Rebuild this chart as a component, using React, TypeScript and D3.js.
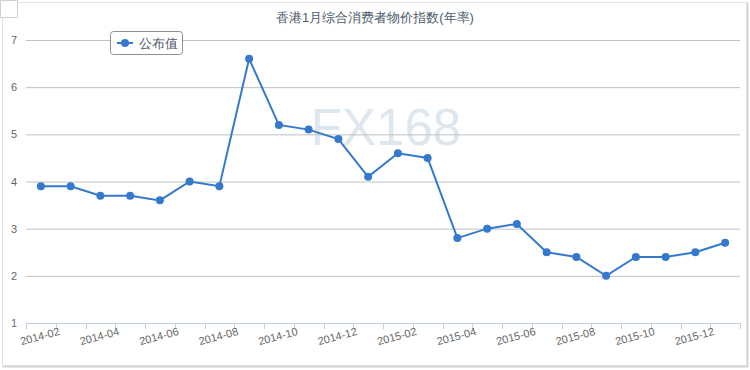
import React from "react";
import * as d3 from "d3";

const months = [
  "2014-02", "2014-03", "2014-04", "2014-05", "2014-06", "2014-07",
  "2014-08", "2014-09", "2014-10", "2014-11", "2014-12", "2015-01",
  "2015-02", "2015-03", "2015-04", "2015-05", "2015-06", "2015-07",
  "2015-08", "2015-09", "2015-10", "2015-11", "2015-12", "2016-01",
];
const cpiYoY = [
  3.9, 3.9, 3.7, 3.7, 3.6, 4.0,
  3.9, 6.6, 5.2, 5.1, 4.9, 4.1,
  4.6, 4.5, 2.8, 3.0, 3.1, 2.5,
  2.4, 2.0, 2.4, 2.4, 2.5, 2.7,
];
const yTicks = [1, 2, 3, 4, 5, 6, 7];
const title = "香港1月综合消费者物价指数(年率)";
const seriesName = "公布值";

const W = 750;
const H = 370;
const plot = { left: 26, right: 740, top: 40, bottom: 323 };
const lineColor = "#3579cf";
const font = "'Liberation Sans', Arial, sans-serif";

export default function App() {
  const x = d3
    .scaleBand<string>()
    .domain(months)
    .range([plot.left, plot.right]);
  const y = d3.scaleLinear().domain([1, 7]).range([plot.bottom, plot.top]);
  const cx = (m: string) => (x(m) as number) + x.bandwidth() / 2;

  const line = d3
    .line<number>()
    .x((_, i) => cx(months[i]))
    .y((d) => y(d));

  const boundaries = months.map((m) => x(m) as number).concat([plot.right]);
  const labelled = months.filter((_, i) => i % 2 === 0);

  return (
    <svg
      width={W}
      height={H}
      style={{ position: "absolute", left: 0, top: 0, fontFamily: font }}
    >
      <rect x={0} y={0} width={W} height={H} fill="#fff" />
      {/* frame with a faint shadow */}
      <rect x={3.5} y={3.5} width={744} height={363} fill="none" stroke="#d4d4d4" strokeWidth={2} />
      <rect x={2.5} y={2.5} width={744} height={363} fill="#fff" stroke="#e2e2e2" />
      <rect x={0.5} y={0.5} width={17} height={17} fill="#fff" stroke="#cfcfcf" />

      <text
        x={375}
        y={22}
        textAnchor="middle"
        fontSize={13}
        fill="#4d5b6b"
      >
        {title}
      </text>

      {/* watermark */}
      <text
        x={386}
        y={145}
        textAnchor="middle"
        fontSize={51}
        fill="#dfe7ee"
      >
        FX168
      </text>

      {/* horizontal grid */}
      {yTicks.slice(1).map((t) => (
        <line
          key={t}
          x1={plot.left}
          x2={plot.right}
          y1={y(t) + 0.5}
          y2={y(t) + 0.5}
          stroke="#c0c0c0"
          strokeWidth={1}
        />
      ))}
      {yTicks.map((t) => (
        <text
          key={t}
          x={17}
          y={y(t) + 4}
          textAnchor="end"
          fontSize={11}
          fill="#666"
        >
          {t}
        </text>
      ))}

      {/* x axis */}
      <line
        x1={plot.left}
        x2={plot.right}
        y1={plot.bottom + 0.5}
        y2={plot.bottom + 0.5}
        stroke="#c0d0e0"
      />
      {boundaries.map((bx, i) => (
        <line
          key={i}
          x1={Math.round(bx) + 0.5}
          x2={Math.round(bx) + 0.5}
          y1={plot.bottom}
          y2={plot.bottom + 6}
          stroke="#c0d0e0"
        />
      ))}
      {labelled.map((m) => (
        <text
          key={m}
          transform={`translate(${cx(m)},${plot.bottom + 17}) rotate(-15)`}
          textAnchor="middle"
          fontSize={11}
          fill="#666"
        >
          {m}
        </text>
      ))}

      {/* series */}
      <path d={line(cpiYoY) ?? ""} fill="none" stroke={lineColor} strokeWidth={2} />
      {cpiYoY.map((v, i) => (
        <circle key={months[i]} cx={cx(months[i])} cy={y(v)} r={4} fill={lineColor} />
      ))}

      {/* legend */}
      <rect x={110.5} y={31.5} width={72} height={23} rx={3} fill="#fff" stroke="#909090" />
      <line x1={117} x2={133} y1={43} y2={43} stroke={lineColor} strokeWidth={2} />
      <circle cx={125} cy={43} r={4} fill={lineColor} />
      <text x={139} y={48} fontSize={13} fill="#4d5b6b">
        {seriesName}
      </text>
    </svg>
  );
}
